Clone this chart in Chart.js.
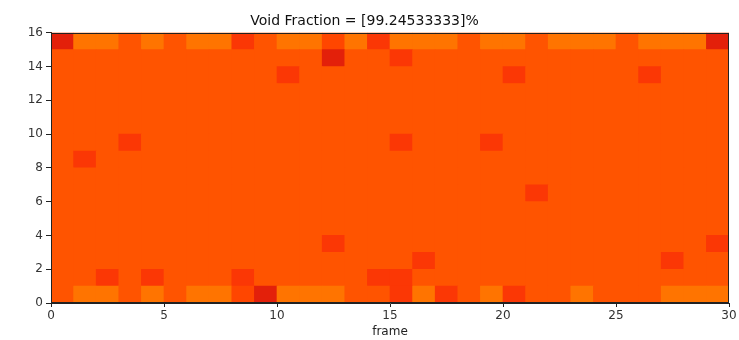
<!DOCTYPE html>
<html>
<head>
<meta charset="utf-8">
<script src="https://cdn.jsdelivr.net/npm/chart.js@4"></script>
<style>
  html, body { margin: 0; padding: 0; background: #fff; }
  #wrap { width: 739px; height: 340px; }
</style>
</head>
<body>
<div id="wrap"><canvas id="heat" width="739" height="340"></canvas></div>
<script>
// void level per cell, row 0 = bottom, 30 frames per row
// 0 = light orange, 1 = base, 2 = slightly darker, 3 = red-ish, 4 = dark red
const row0  = [1,0,0,1,0,1,0,0,2,4,0,0,0,1,1,3,0,3,1,0,3,1,1,0,1,1,1,0,0,0];
const row1  = [1,1,3,1,3,1,1,1,3,1,1,1,1,1,3,3,1,1,1,1,1,1,1,1,1,1,1,1,1,1];
const row2  = [1,1,1,1,1,1,1,1,1,1,1,1,1,1,1,1,3,1,1,1,1,1,1,1,1,1,1,3,1,1];
const row3  = [1,1,1,1,1,1,1,1,1,1,1,1,3,1,1,1,1,1,1,1,1,1,1,1,1,1,1,1,1,3];
const row4  = [1,1,1,1,1,1,1,1,1,1,1,1,1,1,1,1,1,1,1,1,1,1,1,1,1,1,1,1,1,1];
const row5  = [1,1,1,1,1,1,1,1,1,1,1,1,1,1,1,1,1,1,1,1,1,1,1,1,1,1,1,1,1,1];
const row6  = [1,1,1,1,1,1,1,1,1,1,1,1,1,1,1,1,1,1,1,1,1,3,1,1,1,1,1,1,1,1];
const row7  = [1,1,1,1,1,1,1,1,1,1,1,1,1,1,1,1,1,1,1,1,1,1,1,1,1,1,1,1,1,1];
const row8  = [1,3,1,1,1,1,1,1,1,1,1,1,1,1,1,1,1,1,1,1,1,1,1,1,1,1,1,1,1,1];
const row9  = [1,1,1,3,1,1,1,1,1,1,1,1,1,1,1,3,1,1,1,3,1,1,1,1,1,1,1,1,1,1];
const row10 = [1,1,1,1,1,1,1,1,1,1,1,1,1,1,1,1,1,1,1,1,1,1,1,1,1,1,1,1,1,1];
const row11 = [1,1,1,1,1,1,1,1,1,1,1,1,1,1,1,1,1,1,1,1,1,1,1,1,1,1,1,1,1,1];
const row12 = [1,1,1,1,1,1,1,1,1,1,1,1,1,1,1,1,1,1,1,1,1,1,1,1,1,1,1,1,1,1];
const row13 = [1,1,1,1,1,1,1,1,1,1,3,1,1,1,1,1,1,1,1,1,3,1,1,1,1,1,3,1,1,1];
const row14 = [1,1,1,1,1,1,1,1,1,1,1,1,4,1,1,3,1,1,1,1,1,1,1,1,1,1,1,1,1,1];
const row15 = [4,0,0,1,0,1,0,0,3,1,0,0,2,0,3,0,0,0,1,0,0,1,0,0,0,1,0,0,0,4];
const rows = [row0,row1,row2,row3,row4,row5,row6,row7,row8,row9,row10,row11,row12,row13,row14,row15];

const frames = row0.map((_, i) => i);   // frame index, cell spans [i, i+1]
const xTicks = [0, 5, 10, 15, 20, 25, 30];
const yTicks = [0, 2, 4, 6, 8, 10, 12, 14, 16];
const voidFraction = '99.24533333';

const palette = ['#ff7400', '#ff5400', '#ff4600', '#fb3705', '#e3200a'];

const datasets = rows.map((levels, r) => ({
  label: 'row ' + r,
  data: frames.map(f => ({ x: f + 0.5, y: [r, r + 1] })),
  backgroundColor: levels.map(l => palette[l]),
  borderWidth: 0,
  grouped: false,
  barPercentage: 1,
  categoryPercentage: 1
}));

// base colour behind cells + full frame (spines)
const frame = {
  id: 'frame',
  beforeDatasetsDraw(chart) {
    const { ctx, chartArea: a } = chart;
    ctx.save();
    ctx.fillStyle = palette[1];
    ctx.fillRect(a.left, a.top, a.right - a.left, a.bottom - a.top);
    ctx.restore();
  },
  afterDatasetsDraw(chart) {
    const { ctx, chartArea: a } = chart;
    ctx.save();
    ctx.strokeStyle = '#222';
    ctx.lineWidth = 1;
    ctx.strokeRect(Math.round(a.left) + 0.5, Math.round(a.top) + 0.5, Math.round(a.right - a.left) - 1, Math.round(a.bottom - a.top) - 1);
    ctx.restore();
  }
};

const font = 'DejaVu Sans';

new Chart(document.getElementById('heat'), {
  type: 'bar',
  data: { datasets },
  options: {
    responsive: false,
    animation: false,
    layout: { padding: { left: 0, right: 10, top: 0, bottom: 0 } },
    plugins: {
      legend: { display: false },
      tooltip: { enabled: false },
      title: {
        display: true,
        text: 'Void Fraction = [' + voidFraction + ']%',
        color: '#111',
        font: { family: font, size: 14, weight: 'normal' },
        padding: { top: 13, bottom: 3 }
      }
    },
    scales: {
      x: {
        type: 'linear',
        min: 0, max: 30,
        offset: false,
        afterBuildTicks(s) { s.ticks = xTicks.map(v => ({ value: v })); },
        afterFit(s) { s.height = 37; },
        ticks: { color: '#333', font: { family: font, size: 12 }, padding: 2, maxRotation: 0 },
        grid: { offset: false, drawOnChartArea: false, drawTicks: true, tickLength: 4, color: '#222' },
        border: { display: true, color: '#222' },
        title: { display: true, text: 'frame', color: '#222', font: { family: font, size: 12 }, padding: { top: 0, bottom: 1 } }
      },
      y: {
        type: 'linear',
        min: 0, max: 16,
        afterBuildTicks(s) { s.ticks = yTicks.map(v => ({ value: v })); },
        afterFit(s) { s.width = 51; },
        ticks: { color: '#333', font: { family: font, size: 12 }, padding: 3 },
        grid: { offset: false, drawOnChartArea: false, drawTicks: true, tickLength: 5, color: '#222' },
        border: { display: true, color: '#222' }
      }
    }
  },
  plugins: [frame]
});
</script>
</body>
</html>
